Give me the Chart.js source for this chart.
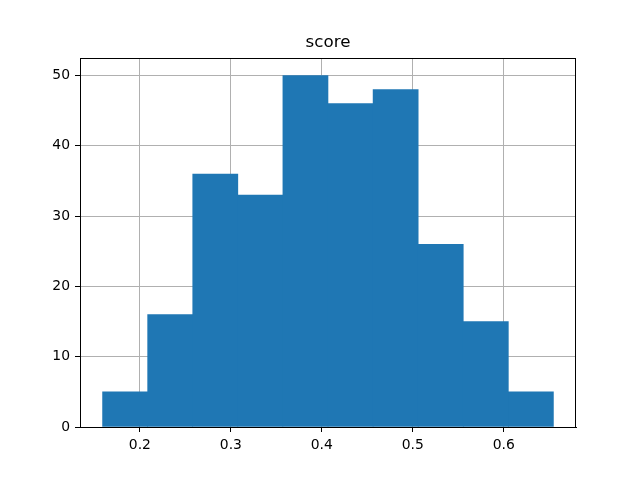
<!DOCTYPE html>
<html>
<head>
<meta charset="utf-8">
<script src="https://cdn.jsdelivr.net/npm/chart.js@4/dist/chart.umd.min.js"></script>
<style>
  html, body { margin: 0; padding: 0; background: #ffffff; }
  canvas { display: block; }
</style>
</head>
<body>
<canvas id="c" width="640" height="480"></canvas>
<script>
// Histogram of "score"
const chartTitle = "score";
const binEdges = [0.1590, 0.2086, 0.2581, 0.3077, 0.3572, 0.4068, 0.4564, 0.5059, 0.5555, 0.6050, 0.6546];
const counts = [5, 16, 36, 33, 50, 46, 48, 26, 15, 5];
const xRange = [0.1342, 0.6794];
const yRange = [0, 52.5];
const xTicks = [0.2, 0.3, 0.4, 0.5, 0.6];
const yTicks = [0, 10, 20, 30, 40, 50];

const barData = counts.map((c, i) => ({ x: (binEdges[i] + binEdges[i + 1]) / 2, y: c }));

const FONT = "'DejaVu Sans', sans-serif";

const framePlugin = {
  id: 'frame',
  afterDraw(chart) {
    const { ctx, chartArea: a } = chart;
    ctx.save();
    ctx.strokeStyle = '#000000';
    ctx.lineWidth = 1;
    ctx.strokeRect(Math.round(a.left) + 0.5, Math.round(a.top) + 0.5,
                   Math.round(a.right - a.left) - 1, Math.round(a.bottom - a.top));
    ctx.fillStyle = '#000000';
    ctx.font = '16.7px ' + FONT;
    ctx.textAlign = 'center';
    ctx.textBaseline = 'middle';
    ctx.fillText(chartTitle, (a.left + a.right) / 2, 43);
    ctx.restore();
  }
};

new Chart(document.getElementById('c'), {
  type: 'bar',
  data: {
    datasets: [{
      label: chartTitle,
      data: barData,
      backgroundColor: '#1f77b4',
      borderWidth: 0,
      barPercentage: 1.0,
      categoryPercentage: 1.0
    }]
  },
  options: {
    responsive: false,
    animation: false,
    devicePixelRatio: 1,
    layout: { padding: { left: 0, right: 64, top: 58, bottom: 0 } },
    plugins: {
      legend: { display: false },
      title: { display: false },
      tooltip: { enabled: false }
    },
    scales: {
      x: {
        type: 'linear',
        z: 1,
        min: xRange[0],
        max: xRange[1],
        offset: false,
        afterFit(s) { s.height = 53; },
        afterBuildTicks(s) { s.ticks = xTicks.map(v => ({ value: v })); },
        grid: { offset: false, color: '#b0b0b0', lineWidth: 1, tickLength: 5, tickColor: '#000000', drawTicks: true },
        border: { display: true, color: '#000000', width: 1 },
        ticks: {
          autoSkip: false,
          maxRotation: 0,
          padding: 5,
          color: '#000000',
          font: { family: FONT, size: 13.9 },
          callback: v => Number(v).toFixed(1)
        }
      },
      y: {
        type: 'linear',
        z: 1,
        min: yRange[0],
        max: yRange[1],
        afterFit(s) { s.width = 80; },
        afterBuildTicks(s) { s.ticks = yTicks.map(v => ({ value: v })); },
        grid: { offset: false, color: '#b0b0b0', lineWidth: 1, tickLength: 5, tickColor: '#000000', drawTicks: true },
        border: { display: true, color: '#000000', width: 1 },
        ticks: {
          autoSkip: false,
          padding: 5,
          color: '#000000',
          font: { family: FONT, size: 13.9 },
          callback: v => String(Math.round(v))
        }
      }
    }
  },
  plugins: [framePlugin]
});
</script>
</body>
</html>
